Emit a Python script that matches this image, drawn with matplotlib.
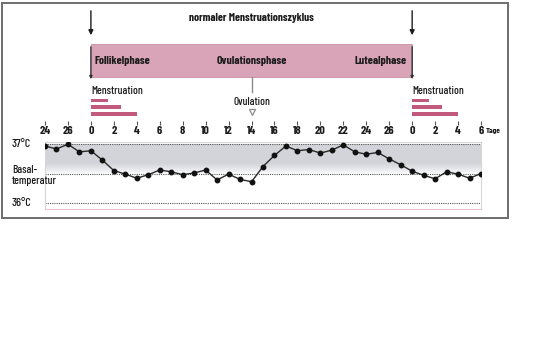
import matplotlib

matplotlib.use("Agg")

import matplotlib.pyplot as plt
import numpy as np
from matplotlib.patches import Rectangle

# continuous day axis: -4 = day 24 of previous cycle, 0 = day 1 (label 0), 28 = next cycle
DAYS = list(range(-4, 35))
TEMPS = [36.97, 36.92, 37.00, 36.87, 36.89, 36.73, 36.55, 36.49, 36.42, 36.48,
         36.56, 36.53, 36.48, 36.51, 36.56, 36.39, 36.49, 36.40, 36.36, 36.62,
         36.81, 36.97, 36.89, 36.91, 36.85, 36.90, 36.99, 36.87, 36.83, 36.86,
         36.75, 36.65, 36.54, 36.47, 36.41, 36.53, 36.49, 36.42, 36.50]
TICK_POS = list(range(-4, 35, 2))
TICK_LABELS = ["24", "26", "0", "2", "4", "6", "8", "10", "12", "14", "16", "18",
               "20", "22", "24", "26", "0", "2", "4", "6"]
CYCLE_START = 0
CYCLE_END = 28
OVULATION_DAY = 14
MENS_BARS = [1.5, 2.6, 4.0]
REF_LINES = [37.0, 36.5, 36.0]

FONT = ["Barlow Condensed", "DejaVu Sans"]
STRETCH = "condensed"
PINK = "#d9a4b7"
BAR_PINK = "#c25a7e"
INK = "#1c1c1c"

W, H = 560, 350
fig = plt.figure(figsize=(W / 100, H / 100), dpi=100)


def fx(px):
    return px / W


def fy(py):
    return 1 - py / H


def label(target, x, y, s, size, bold=False, **kw):
    return target.text(x, y, s, family=FONT, fontstretch=STRETCH, fontsize=size,
                       fontweight="bold" if bold else "medium", color=INK,
                       va="center", **kw)


# outer frame
fig.patches.append(Rectangle((fx(2), fy(218)), fx(506), 215 / H, transform=fig.transFigure,
                             fill=False, edgecolor="#6e6e6e", lw=1.4))

# upper area: phases and menstruation, y in pixel-like units
top = fig.add_axes([fx(45), fy(125), fx(436), 125 / H])
top.set_xlim(-4, 34)
top.set_ylim(125, 0)
top.patch.set_alpha(0)
for s in top.spines.values():
    s.set_visible(False)
top.set_yticks([])
top.set_xticks(TICK_POS)
top.set_xticklabels([])
top.tick_params(axis="x", direction="in", length=3, width=0.8, color="#555")

top.add_patch(Rectangle((CYCLE_START, 44), CYCLE_END - CYCLE_START, 33,
                        facecolor=PINK, edgecolor="#c9909f", lw=0.6))
for d in (CYCLE_START, CYCLE_END):
    top.annotate("", xy=(d, 38), xytext=(d, 8),
                 arrowprops=dict(arrowstyle="-|>", color=INK, lw=1.0, mutation_scale=7))
    top.annotate("", xy=(d, 82), xytext=(d, 44),
                 arrowprops=dict(arrowstyle="-|>", color="#333", lw=1.0, mutation_scale=4))
    for i, w in enumerate(MENS_BARS):
        top.add_patch(Rectangle((d, 98.5 + i * 6.8), w, 3.6, facecolor=BAR_PINK,
                                edgecolor="none"))
    label(top, d, 91.5, "Menstruation", 8.2, ha="left")

label(top, (CYCLE_START + CYCLE_END) / 2, 18, "normaler Menstruationszyklus", 8.2,
      bold=True, ha="center")
label(top, CYCLE_START + 0.35, 60.5, "Follikelphase", 8.4, bold=True, ha="left")
label(top, OVULATION_DAY, 60.5, "Ovulationsphase", 8.4, bold=True, ha="center")
label(top, CYCLE_END - 0.5, 60.5, "Lutealphase", 8.4, bold=True, ha="right")

top.plot([OVULATION_DAY, OVULATION_DAY], [77, 92], color="#8a8a8a", lw=1.0)
label(top, OVULATION_DAY, 101.5, "Ovulation", 8.2, ha="center")
top.plot([OVULATION_DAY], [112], marker="v", markersize=5, markerfacecolor="white",
         markeredgecolor="#8a8a8a", markeredgewidth=0.9)

# temperature panel
ax = fig.add_axes([fx(45), fy(209), fx(436), 67 / H])
ax.set_xlim(-4, 34)
ax.set_ylim(35.894, 37.039)

# grey band between 36.5 and 37, fading out towards its lower edge
grad = np.linspace(0, 1, 100).reshape(-1, 1)
shade = np.clip(grad / 0.35, 0, 1) ** 0.8
rgb = np.ones((100, 1, 3))
for k, c in enumerate((0.83, 0.835, 0.855)):
    rgb[:, 0, k] = 1 - (1 - c) * shade[:, 0]
ax.imshow(rgb, extent=(-4, 34, 36.5, 37.0), origin="lower", aspect="auto",
          interpolation="bilinear", zorder=0)

for v in REF_LINES:
    ax.axhline(v, color="#555", lw=0.8, ls=(0, (1, 1)), zorder=1)

ax.plot(DAYS, TEMPS, color="#2a2a2a", lw=1.0, marker="o", markersize=3.2,
        markerfacecolor="#111", markeredgecolor="#111", zorder=3)

for s in ax.spines.values():
    s.set_color("#d6d6d6")
    s.set_linewidth(0.8)
ax.spines["bottom"].set_color("#e6c4cf")
ax.set_yticks([])
ax.xaxis.tick_top()
ax.set_xticks(TICK_POS)
ax.set_xticklabels(TICK_LABELS, family=FONT, fontstretch=STRETCH, fontsize=8.6,
                   fontweight="bold", color=INK)
ax.tick_params(axis="x", length=0, pad=4)

label(fig, fx(486), fy(131.5), "Tage", 6, bold=True, ha="left")
label(fig, fx(12), fy(144.5), "37°C", 8.6, ha="left")
label(fig, fx(12), fy(170), "Basal-", 8.2, ha="left")
label(fig, fx(12), fy(181), "temperatur", 8.2, ha="left")
label(fig, fx(12), fy(203), "36°C", 8.6, ha="left")

fig.savefig("out.png", dpi=100)
